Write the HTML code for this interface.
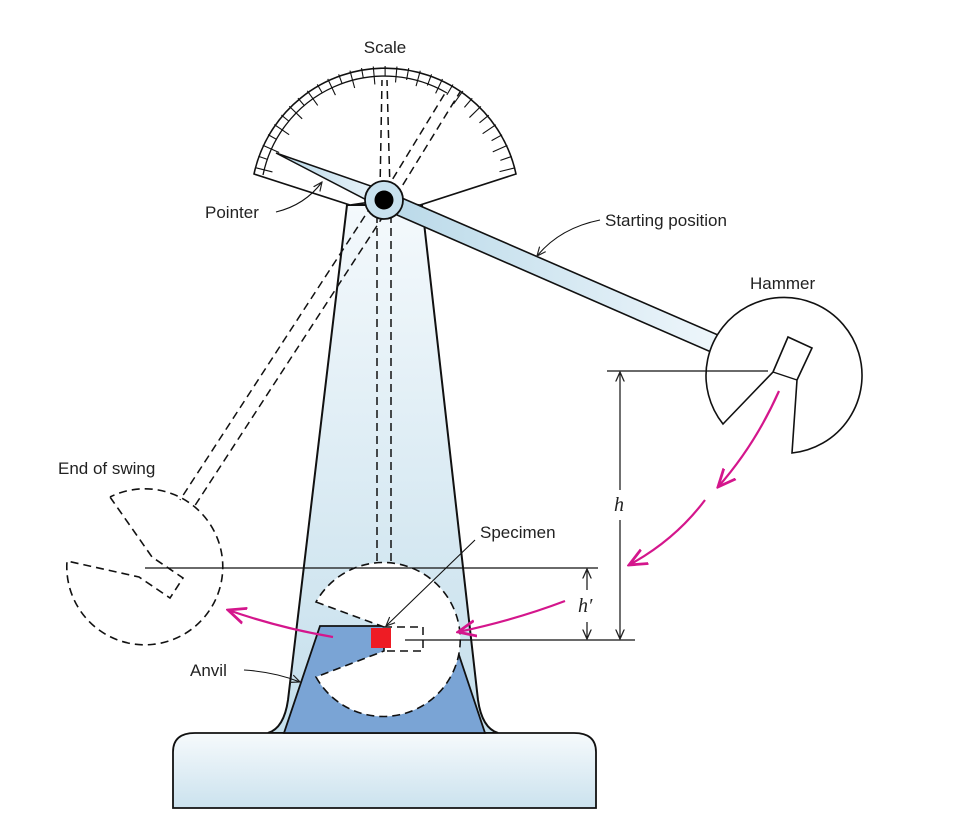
<!DOCTYPE html>
<html><head><meta charset="utf-8"><style>
html,body{margin:0;padding:0;background:#fff}
svg{display:block}
text{font-family:"Liberation Sans",sans-serif;font-size:17px;fill:#222}
.it{font-family:"Liberation Serif",serif;font-style:italic;font-size:20px}
</style></head><body>
<svg width="958" height="834" viewBox="0 0 958 834" xmlns="http://www.w3.org/2000/svg">
<defs>
<linearGradient id="tg" x1="0" y1="0" x2="0" y2="1"><stop offset="0" stop-color="#f4f9fc"/><stop offset="1" stop-color="#c5dfec"/></linearGradient>
<linearGradient id="bg" x1="0" y1="0" x2="0" y2="1"><stop offset="0" stop-color="#f6fafc"/><stop offset="1" stop-color="#cbe2ee"/></linearGradient>
<linearGradient id="ag" x1="0" y1="0" x2="1" y2="0"><stop offset="0" stop-color="#b8d8e8"/><stop offset="1" stop-color="#eef6fb"/></linearGradient>
<marker id="ma" viewBox="0 0 10 10" refX="9" refY="5" markerWidth="9" markerHeight="9" orient="auto"><path d="M0,1 L9,5 L0,9" fill="none" stroke="#d4168c" stroke-width="1.4"/></marker>
<marker id="ka" viewBox="0 0 10 10" refX="9" refY="5" markerWidth="9" markerHeight="9" orient="auto"><path d="M0,1 L9,5 L0,9" fill="none" stroke="#222" stroke-width="1.2"/></marker>
</defs>

<path d="M347,205 L422,205 L478,700 Q482,728 498,733 L268,733 Q284,728 288,700 Z" fill="url(#tg)" stroke="#111" stroke-width="2"/>
<path d="M173,808 L173,752 Q173,733 195,733 L574,733 Q596,733 596,752 L596,808 Z" fill="url(#bg)" stroke="#111" stroke-width="1.8"/>
<path d="M320,626 L395,626 L395,649 L457,649 L485,733 L284,733 Z" fill="#7aa4d5" stroke="#111" stroke-width="1.8"/>
<path d="M316,602 L384,627 L384,651 L316,677 A77,77 0 1 0 316,602 Z" fill="#fff" stroke="#111" stroke-width="1.6" stroke-dasharray="8,5"/>
<path d="M384,627 L423,627 L423,651 L384,651" fill="none" stroke="#111" stroke-width="1.5" stroke-dasharray="8,5"/>
<rect x="371" y="628" width="20" height="20" fill="#ee1c24"/>
<line x1="377" y1="215" x2="377" y2="563" stroke="#111" stroke-width="1.5" stroke-dasharray="8,5"/>
<line x1="391" y1="215" x2="391" y2="563" stroke="#111" stroke-width="1.5" stroke-dasharray="8,5"/>
<!-- scale -->
<path d="M254,174 A134,134 0 0 1 516,174 L420,205 L384,200 L350,205 Z" fill="#fff" stroke="#111" stroke-width="1.6"/>
<path d="M263,175 A124,124 0 0 1 447,93" fill="none" stroke="#111" stroke-width="1.3"/>
<g id="ticks" stroke="#111" stroke-width="1.1"></g>
<line x1="380" y1="190" x2="382" y2="80" stroke="#111" stroke-width="1.5" stroke-dasharray="8,5"/>
<line x1="390" y1="190" x2="387" y2="80" stroke="#111" stroke-width="1.5" stroke-dasharray="8,5"/>
<line x1="386" y1="190" x2="447" y2="90" stroke="#111" stroke-width="1.5" stroke-dasharray="8,5"/>
<line x1="396" y1="196" x2="460" y2="92" stroke="#111" stroke-width="1.5" stroke-dasharray="8,5"/>
<line x1="372" y1="205" x2="180" y2="500" stroke="#111" stroke-width="1.5" stroke-dasharray="8,5"/>
<line x1="384" y1="215" x2="194" y2="507" stroke="#111" stroke-width="1.5" stroke-dasharray="8,5"/>
<path d="M110,497 L152,557 L183,578 L170,598 L139,577 L67,561 A78,78 0 1 0 110,497" fill="none" stroke="#111" stroke-width="1.6" stroke-dasharray="8,5"/>
<path d="M276,153 L388,192 L382,208 Z" fill="url(#ag)" stroke="#111" stroke-width="1.5"/>
<path d="M388,192 L718,335 L711,352 L381,208 Z" fill="url(#ag)" stroke="#111" stroke-width="1.6"/>
<path d="M723,424 L773,372 L788,337 L812,348 L797,380 L792,453 A78,78 0 1 0 723,424 Z" fill="#fff" stroke="#111" stroke-width="1.6"/>
<line x1="773" y1="372" x2="797" y2="380" stroke="#111" stroke-width="1.4"/>
<circle cx="384" cy="200" r="19" fill="#c8e1ee" stroke="#111" stroke-width="1.8"/>
<circle cx="384" cy="200" r="9.5" fill="#000"/>
<line x1="607" y1="371" x2="768" y2="371" stroke="#111" stroke-width="1.3"/>
<line x1="145" y1="568" x2="598" y2="568" stroke="#111" stroke-width="1.3"/>
<line x1="405" y1="640" x2="635" y2="640" stroke="#111" stroke-width="1.3"/>
<line x1="620" y1="490" x2="620" y2="372" stroke="#111" stroke-width="1.2" marker-end="url(#ka)"/>
<line x1="620" y1="520" x2="620" y2="639" stroke="#111" stroke-width="1.2" marker-end="url(#ka)"/>
<text class="it" x="614" y="511">h</text>
<line x1="587" y1="590" x2="587" y2="569" stroke="#111" stroke-width="1.2" marker-end="url(#ka)"/>
<line x1="587" y1="622" x2="587" y2="639" stroke="#111" stroke-width="1.2" marker-end="url(#ka)"/>
<text class="it" x="578" y="612">h′</text>
<g fill="none" stroke="#d4168c" stroke-width="2.2">
<path d="M779,391 Q755,445 718,487" marker-end="url(#ma)"/>
<path d="M705,500 Q675,540 629,565" marker-end="url(#ma)"/>
<path d="M333,637 Q280,628 228,610" marker-end="url(#ma)"/>
<path d="M565,601 Q515,620 458,632" marker-end="url(#ma)"/>
</g>
<g fill="none" stroke="#111" stroke-width="1.1">
<path d="M276,212 Q305,205 322,182" marker-end="url(#ka)"/>
<path d="M600,220 Q560,228 537,256" marker-end="url(#ka)"/>
<path d="M475,540 L386,626" marker-end="url(#ka)"/>
<path d="M244,670 Q275,672 300,682" marker-end="url(#ka)"/>
</g>
<text x="385" y="53" text-anchor="middle">Scale</text>
<text x="205" y="218">Pointer</text>
<text x="605" y="226">Starting position</text>
<text x="750" y="289">Hammer</text>
<text x="58" y="474">End of swing</text>
<text x="480" y="538">Specimen</text>
<text x="190" y="676">Anvil</text>
</svg>
<script>
const g=document.getElementById('ticks');
const cx=385,cy=200;
for(let i=0;i<=30;i++){
  const a=Math.PI*(166-i*5.07)/180;
  let r1,r2=134;
  if(i<=15){r1=(i%2===0)?116:124;}else{r1=(i%2===0)?118:122;}
  const l=document.createElementNS('http://www.w3.org/2000/svg','line');
  l.setAttribute('x1',cx+r1*Math.cos(a));l.setAttribute('y1',cy-r1*Math.sin(a));
  l.setAttribute('x2',cx+r2*Math.cos(a));l.setAttribute('y2',cy-r2*Math.sin(a));
  
  
  g.appendChild(l);
}
</script>
</body></html>
